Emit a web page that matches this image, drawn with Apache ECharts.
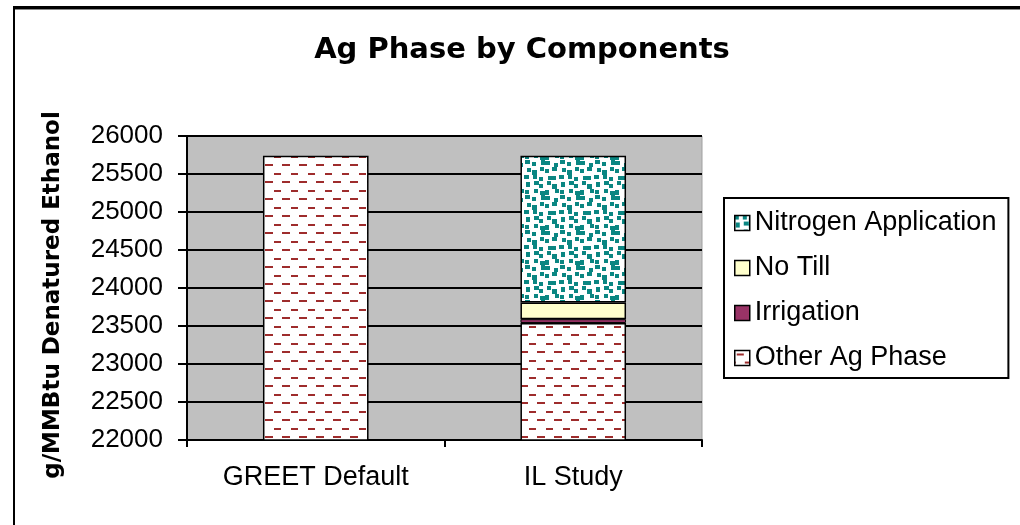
<!DOCTYPE html>
<html>
<head>
<meta charset="utf-8">
<script src="https://cdn.jsdelivr.net/npm/echarts@6/dist/echarts.min.js"></script>
<style>
html,body{margin:0;padding:0;background:#fff;}
#chart{width:1020px;height:525px;}
</style>
</head>
<body>
<div id="chart"></div>
<script>
// ---- data ----
const categories = ['GREET Default', 'IL Study'];
const otherAgPhase = [25740, 23540];
const irrigation = [null, 50];
const noTill = [null, 220];
const nitrogenApplication = [null, 1930];
const legendOrder = ['Nitrogen Application', 'No Till', 'Irrigation', 'Other Ag Phase'];
const yMin = 22000, yMax = 26000, yStep = 500;

// ---- pattern tiles (style only) ----
function dashTile() {
  const c = document.createElement('canvas');
  c.width = 17; c.height = 17;
  const g = c.getContext('2d');
  g.fillStyle = '#ffffff'; g.fillRect(0, 0, 17, 17);
  g.fillStyle = '#9e2c2c';
  g.fillRect(2, 3, 7, 2);
  g.fillRect(10, 11, 7, 2);
  g.fillRect(0, 11, 1, 2);
  return c;
}
function speckTile() {
  const c = document.createElement('canvas');
  const N = 5, P = 7, S = N * P;
  c.width = S; c.height = S;
  const g = c.getContext('2d');
  g.fillStyle = '#ffffff'; g.fillRect(0, 0, S, S);
  g.fillStyle = '#0a8682';
  const jx = [0, 2, 1, 3, 0, 2, 3, 1, 2, 0, 1, 3, 2, 0, 3, 1, 1, 3, 0, 2, 3, 1, 2, 0, 0];
  const jy = [1, 0, 3, 2, 2, 1, 0, 3, 0, 3, 2, 1, 3, 2, 1, 0, 2, 0, 1, 3, 1, 3, 0, 2, 0];
  let k = 0;
  for (let r = 0; r < N; r++) {
    for (let q = 0; q < N; q++) {
      const x = q * P + jx[k] - 1, y = r * P + jy[k] - 1;
      const w = (k % 3 === 0) ? 5 : 4, h = (k % 4 === 1) ? 5 : 4;
      for (const dx of [-S, 0, S]) for (const dy of [-S, 0, S]) g.fillRect(x + dx, y + dy, w, h);
      k++;
    }
  }
  return c;
}
const dashPattern = { image: dashTile(), repeat: 'repeat' };
const speckPattern = { image: speckTile(), repeat: 'repeat' };

const chart = echarts.init(document.getElementById('chart'), null, { renderer: 'canvas' });
const FONT = '"Liberation Sans", Arial, sans-serif';
const border = { borderColor: '#000', borderWidth: 1.5 };

chart.setOption({
  animation: false,
  backgroundColor: '#ffffff',
  title: {
    text: 'Ag Phase by Components',
    left: 517, top: 31, textAlign: 'center',
    textStyle: { fontFamily: '"DejaVu Sans", sans-serif', fontWeight: 'bold', fontSize: 29, color: '#000' }
  },
  graphic: [
    { type: 'rect', shape: { x: 13, y: 6, width: 1007, height: 3 }, style: { fill: '#000' }, silent: true },
    { type: 'rect', shape: { x: 13, y: 9, width: 1007, height: 1 }, style: { fill: '#888' }, silent: true },
    { type: 'rect', shape: { x: 13, y: 6, width: 2, height: 519 }, style: { fill: '#000' }, silent: true }
  ],
  grid: {
    left: 187, right: 318, top: 136, bottom: 85,
    show: true, backgroundColor: '#c0c0c0', borderColor: '#a0a0a0', borderWidth: 1
  },
  legend: {
    orient: 'vertical',
    left: 724, top: 198,
    data: legendOrder,
    icon: 'rect',
    itemWidth: 15, itemHeight: 15,
    itemGap: 15,
    padding: [10, 12, 5, 10],
    borderColor: '#000', borderWidth: 2,
    itemStyle: { borderColor: '#000', borderWidth: 1.5 },
    textStyle: { fontFamily: FONT, fontSize: 27, color: '#000', lineHeight: 30 }
  },
  xAxis: {
    type: 'category',
    data: categories,
    axisLine: { lineStyle: { color: '#000', width: 2 } },
    axisTick: { show: true, length: 7, lineStyle: { color: '#000', width: 2 } },
    axisLabel: { fontFamily: FONT, fontSize: 27, color: '#000', margin: 24 }
  },
  yAxis: {
    type: 'value',
    min: yMin, max: yMax, interval: yStep,
    axisLine: { show: true, lineStyle: { color: '#000', width: 2 } },
    axisTick: { show: true, length: 9, lineStyle: { color: '#000', width: 2 } },
    axisLabel: { fontFamily: FONT, fontSize: 26, color: '#000', margin: 24, formatter: function (v) { return String(v); } },
    splitLine: { show: true, lineStyle: { color: '#000', width: 2 } },
    name: 'g/MMBtu Denatured Ethanol',
    nameLocation: 'middle',
    nameRotate: 90,
    nameGap: 122,
    nameTextStyle: { fontFamily: '"DejaVu Sans", sans-serif', fontWeight: 'bold', fontSize: 23, color: '#000', padding: [0, 14, 0, 0] }
  },
  series: [
    { name: 'Other Ag Phase', type: 'bar', stack: 'ag', data: otherAgPhase,
      barCategoryGap: '59%', itemStyle: Object.assign({ color: dashPattern }, border) },
    { name: 'Irrigation', type: 'bar', stack: 'ag', data: irrigation,
      itemStyle: { color: '#993366', borderColor: '#000', borderWidth: 1 } },
    { name: 'No Till', type: 'bar', stack: 'ag', data: noTill,
      itemStyle: Object.assign({ color: '#ffffcc' }, border) },
    { name: 'Nitrogen Application', type: 'bar', stack: 'ag', data: nitrogenApplication,
      itemStyle: Object.assign({ color: speckPattern }, border) }
  ]
});
</script>
</body>
</html>
